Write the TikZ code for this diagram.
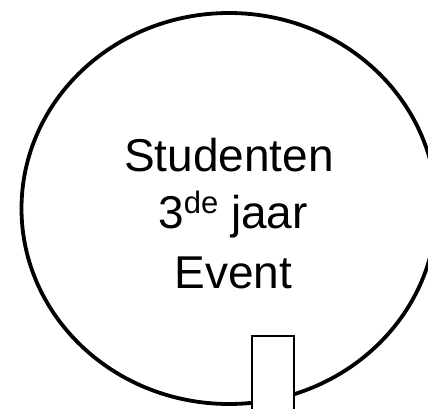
\documentclass[tikz,border=0pt]{standalone}
\usepackage{fontspec}
\setmainfont{Liberation Sans}
\begin{document}
\begin{tikzpicture}[x=1pt,y=1pt,
  bubble/.style={draw=black,line width=3.8pt,fill=white},
  tab/.style={draw=black,line width=2pt,fill=white},
  txt/.style={anchor=base,inner sep=0pt,font=\fontsize{46}{56}\selectfont}]
\useasboundingbox (0,0) rectangle (428,408);
\clip (0,0) rectangle (428,408);
\fill[white] (0,0) rectangle (428,408);
\draw[bubble] (229,199.5) ellipse [x radius=207.5, y radius=195.5];
\node[tab,minimum width=42.6pt,minimum height=80pt,inner sep=0pt,anchor=north] (tab) at (273,73.3) {};
\node[txt] (l1) at (229,236.5) {Studenten};
\node[txt] (l2) at (233,180) {3\raisebox{15pt}{\fontsize{31}{31}\selectfont de} jaar};
\node[txt] (l3) at (233.5,120) {Event};
\end{tikzpicture}
\end{document}
